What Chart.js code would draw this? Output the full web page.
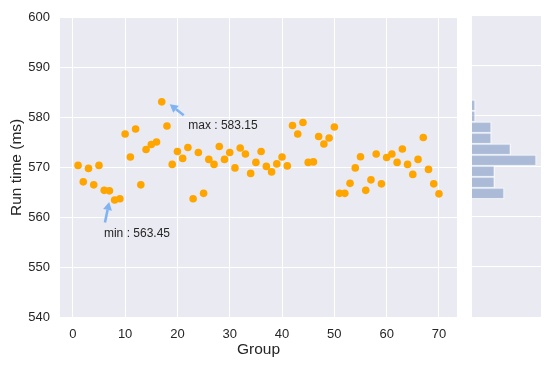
<!DOCTYPE html>
<html>
<head>
<meta charset="utf-8">
<script src="https://cdn.jsdelivr.net/npm/chart.js@4"></script>
<style>
  body { margin: 0; background: #fff; }
  #wrap { position: relative; width: 550px; height: 366px; }
  #main { position: absolute; left: 0; top: 0; }
  #hist { position: absolute; left: 472px; top: 15px; }
</style>
</head>
<body>
<div id="wrap">
  <canvas id="main" width="550" height="366"></canvas>
  <canvas id="hist" width="69" height="302"></canvas>
</div>
<script>
// run time per group (ms)
const runTimes = [
  570.4, 567.1, 569.8, 566.5, 570.4, 565.4, 565.3, 563.45, 563.7, 576.7,
  572.1, 577.7, 566.5, 573.6, 574.6, 575.1, 583.15, 578.3, 570.6, 573.2,
  571.8, 574.0, 563.7, 573.0, 564.8, 571.6, 570.6, 574.2, 571.6, 573.0,
  569.9, 573.9, 572.7, 568.8, 571.0, 573.2, 570.2, 569.1, 570.7, 572.1,
  570.3, 578.4, 576.7, 579.0, 571.0, 571.1, 576.2, 574.7, 575.9, 578.1,
  564.8, 564.8, 566.8, 569.9, 572.15, 565.4, 567.5, 572.7, 566.7, 572.0,
  572.7, 571.0, 573.7, 570.6, 568.6, 571.6, 576.0, 569.6, 566.7, 564.7,
];
const groups = runTimes.map((_, i) => i + 1);

const xTicks = [0, 10, 20, 30, 40, 50, 60, 70];
const yTicks = [540, 550, 560, 570, 580, 590, 600];
const binCount = 9;

const textColor = "#262626";
const fontFamily = "'Liberation Sans', Arial, sans-serif";
const arrowColor = "#80b3f2";

const panelBg = {
  id: "panelBg",
  beforeDraw(chart) {
    const { ctx, chartArea: a } = chart;
    ctx.save();
    ctx.fillStyle = "#eaeaf2";
    ctx.fillRect(a.left, a.top, a.right - a.left, a.bottom - a.top);
    ctx.restore();
  },
};

const drawArrow = (ctx, x0, y0, x1, y1) => {
  const ang = Math.atan2(y1 - y0, x1 - x0);
  const head = 8;
  const half = 4.5;
  const bx = x1 - head * Math.cos(ang);
  const by = y1 - head * Math.sin(ang);
  ctx.strokeStyle = arrowColor;
  ctx.fillStyle = arrowColor;
  ctx.lineWidth = 2.6;
  ctx.beginPath();
  ctx.moveTo(x0, y0);
  ctx.lineTo(bx, by);
  ctx.stroke();
  ctx.beginPath();
  ctx.moveTo(x1, y1);
  ctx.lineTo(bx + half * Math.sin(ang), by - half * Math.cos(ang));
  ctx.lineTo(bx - half * Math.sin(ang), by + half * Math.cos(ang));
  ctx.closePath();
  ctx.fill();
};

const minVal = Math.min(...runTimes);
const maxVal = Math.max(...runTimes);

// text/arrow offsets in pixels from the annotated point
const notes = [
  { label: "max", value: maxVal, text: [26.5, 27], tail: [22, 13.5], tip: [8, 2.5] },
  { label: "min", value: minVal, text: [-10.7, 36.7], tail: [-9.7, 22.4], tip: [-5.5, 2] },
];

const annotate = {
  id: "annotate",
  afterDatasetsDraw(chart) {
    const { ctx, scales } = chart;
    ctx.save();
    notes.forEach((n) => {
      const i = runTimes.indexOf(n.value);
      const px = scales.x.getPixelForValue(groups[i]);
      const py = scales.y.getPixelForValue(n.value);
      drawArrow(ctx, px + n.tail[0], py + n.tail[1], px + n.tip[0], py + n.tip[1]);
      ctx.fillStyle = textColor;
      ctx.font = `12px ${fontFamily}`;
      ctx.textBaseline = "alphabetic";
      ctx.textAlign = "left";
      ctx.fillText(`${n.label} : ${n.value.toFixed(2)}`, px + n.text[0], py + n.text[1]);
    });
    ctx.restore();
  },
};

// histogram of run times
const lo = minVal;
const step = (maxVal - minVal) / binCount;
const counts = Array(binCount).fill(0);
runTimes.forEach((v) => {
  counts[Math.min(binCount - 1, Math.floor((v - lo) / step))]++;
});
const histBars = counts.map((c, i) => ({ x: c, y: lo + step * (i + 0.5) }));

new Chart(document.getElementById("main"), {
  type: "scatter",
  data: {
    datasets: [
      {
        data: groups.map((g, i) => ({ x: g, y: runTimes[i] })),
        backgroundColor: "#ffa500",
        borderWidth: 0,
        pointRadius: 3.8,
        pointHoverRadius: 3.8,
      },
    ],
  },
  options: {
    responsive: false,
    animation: false,
    layout: { padding: { top: 15, right: 93, left: 0, bottom: 0 } },
    plugins: { legend: { display: false }, tooltip: { enabled: false } },
    scales: {
      x: {
        type: "linear",
        min: -2.45,
        max: 73.45,
        afterBuildTicks: (s) => {
          s.ticks = xTicks.map((v) => ({ value: v }));
        },
        ticks: { padding: 10, color: textColor, font: { family: fontFamily, size: 13 } },
        grid: { color: "#fff", lineWidth: 1, drawTicks: false },
        border: { display: false },
        title: {
          display: true,
          text: "Group",
          color: textColor,
          font: { family: fontFamily, size: 15.5 },
          padding: { top: 0, bottom: 6.7 },
        },
        afterFit: (s) => {
          s.height = 49;
        },
      },
      y: {
        min: 540,
        max: 600,
        afterBuildTicks: (s) => {
          s.ticks = yTicks.map((v) => ({ value: v }));
        },
        ticks: { padding: 10, color: textColor, font: { family: fontFamily, size: 13 } },
        grid: { color: "#fff", lineWidth: 1, drawTicks: false },
        border: { display: false },
        title: {
          display: true,
          text: "Run time (ms)",
          color: textColor,
          font: { family: fontFamily, size: 15.5 },
          padding: { top: 7, bottom: 0 },
        },
        afterFit: (s) => {
          s.width = 60;
        },
      },
    },
  },
  plugins: [panelBg, annotate],
});

new Chart(document.getElementById("hist"), {
  type: "bar",
  data: {
    datasets: [
      {
        data: histBars,
        backgroundColor: "rgba(76, 114, 176, 0.4)",
        borderColor: "rgba(255, 255, 255, 0.85)",
        borderWidth: 1,
        barPercentage: 1,
        categoryPercentage: 1,
      },
    ],
  },
  options: {
    indexAxis: "y",
    responsive: false,
    animation: false,
    layout: { padding: 0 },
    plugins: { legend: { display: false }, tooltip: { enabled: false } },
    scales: {
      y: {
        type: "linear",
        min: 540,
        max: 600,
        offset: false,
        afterBuildTicks: (s) => {
          s.ticks = yTicks.map((v) => ({ value: v }));
        },
        ticks: { display: false },
        grid: { color: "#fff", lineWidth: 1, drawTicks: false, offset: false },
        border: { display: false },
        afterFit: (s) => {
          s.width = 0;
        },
      },
      x: { display: false, min: 0, max: 21.5 },
    },
  },
  plugins: [panelBg],
});
</script>
</body>
</html>
